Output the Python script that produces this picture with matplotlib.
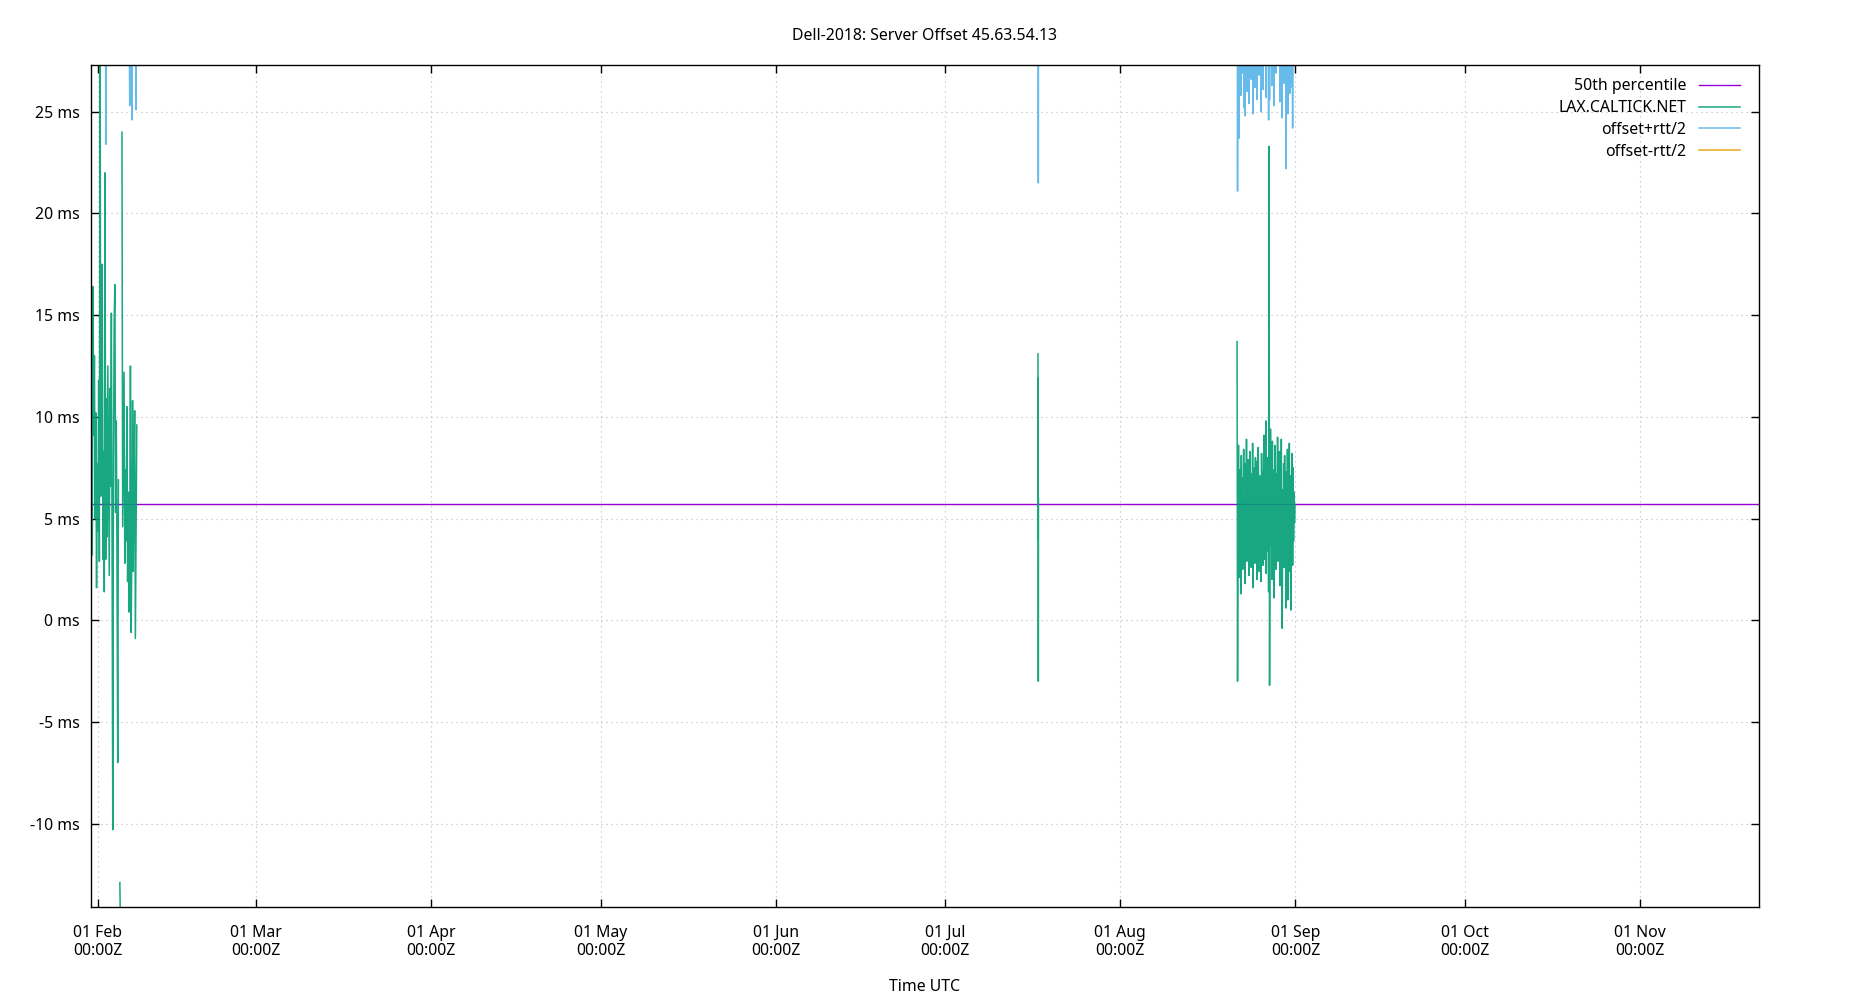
"""
Plot server offset of one NTP source, with the rtt/2 envelope
"""

import numpy as np
import pandas as pd
import matplotlib
matplotlib.use("Agg")
import matplotlib.pyplot as plt
import matplotlib.dates as mdates
from matplotlib.ticker import FuncFormatter

TITLE = "Dell-2018: Server Offset 45.63.54.13"
SERVER = "LAX.CALTICK.NET"

# median of all offsets (ms)
median_ms = 5.70

# first run of samples, every 3 hours
left_start = "2018-01-30 18:00"
left_offset = [12.9, 8.4, 3.2, 16.4, 9.1, 13.0, 5.0, 10.2, 1.6, 7.7,
               4.4, 11.8, 2.9, 30.0, 6.1, 9.5, 17.5, 3.0, 8.3, 1.4,
               22.0, 3.0, 10.9, 4.1, 12.5, 7.0, 2.2, 11.4, 6.6, 15.1,
               3.6, -10.3, 8.0, 14.8, 16.5, 5.3, 9.8, 2.5, -7.0, 6.9,
               np.nan, -12.9, -15.5, np.nan,
               24.0, 4.6, 8.7, 12.2, 2.8, 7.4, 3.9, 10.5, 1.9, 6.3,
               0.4, 4.0, 12.5, -0.6, 3.5, 10.8, 2.4, 7.2, 10.3, -0.9, 4.2, 9.6]
left_half_rtt = [30.0, 31.5, 29.0, 32.0, 30.5, 29.5, 33.0, 30.2, 31.0, 29.8,
                 32.6, 30.0, 31.2, 48.0, 30.4, 29.7, 33.5, 30.9, 32.1, 29.6,
                 38.0, 20.4, 31.6, 30.3, 29.9, 32.8, 30.7, 31.0, 29.4, 31.5,
                 30.0, 40.0, 31.8, 30.5, 32.0, 29.3, 30.8, 31.4, 36.0, 30.1,
                 np.nan, 42.0, 44.0, np.nan,
                 40.0, 30.6, 29.5, 31.9, 30.2, 32.4, 29.8, 30.7, 31.3, 29.9,
                 30.4, 21.3, 30.0, 31.2, 21.1, 29.7, 32.5, 30.3, 31.0, 30.0, 20.9, 29.4]

# short burst in July, every 30 minutes
jul_start = "2018-07-17 10:00"
jul_offset = [13.1, 4.0, 11.9, -3.0, 6.0]
jul_half_rtt = [30.0, 28.0, 29.0, 24.5, 27.0]

# second run of samples, every 2 hours
aug_start = "2018-08-21 16:00"
aug_offset = [13.7, -3.0, 5.2, 8.6, 2.1, 7.4, 4.0, 6.9, 1.3, 8.1,
              3.6, 7.0, 2.5, 6.2, 8.4, 3.1, 5.9, 1.8, 7.7, 4.4,
              8.9, 2.9, 6.6, 3.8, 7.9, 2.2, 5.4, 8.3, 3.3, 6.8,
              2.6, 7.2, 4.7, 8.7, 1.6, 6.0, 3.5, 7.5, 2.8, 8.0,
              4.1, 6.4, 2.0, 7.8, 3.2, 8.5, 5.0, 2.4, 7.1, 3.9,
              6.7, 1.9, 8.2, 4.3, 7.3, 2.7, 6.1, 9.1, 3.0, 7.6,
              4.8, 9.8, 2.3, 6.5, 8.0, 3.4, 7.0, 1.4, 23.3, -3.2,
              6.3, 9.4, 3.7, 7.9, 2.0, 8.8, 4.5, 6.2, 1.1, 7.4,
              3.6, 8.6, 5.3, 2.5, 7.2, 4.0, 9.0, 2.9, 6.8, 3.3,
              8.3, 1.7, 7.0, 4.6, 8.9, 2.2, -0.4, 6.4, 3.8, 7.7,
              2.6, 8.1, 4.2, 6.6, 0.6, 7.3, 3.1, 8.4, 1.0, 6.0,
              3.5, 8.7, 2.4, 7.1, 0.5, 6.9, 4.3, 8.2, 2.7, 7.5,
              3.9, 6.3, 4.8, 5.7]
aug_half_rtt = [30.5, 24.1, 31.0, 29.6, 21.6, 33.2, 22.5, 30.1, 24.5, 32.4,
                29.0, 34.0, 24.4, 30.8, 31.5, 22.1, 29.3, 23.0, 33.6, 30.2,
                31.9, 23.1, 29.7, 32.8, 30.0, 23.2, 34.5, 29.1, 31.4, 30.6,
                24.0, 32.2, 29.9, 30.3, 23.3, 33.0, 31.7, 29.4, 23.4, 32.5,
                30.9, 29.2, 23.6, 31.1, 33.9, 30.0, 29.6, 24.4, 32.7, 30.4,
                31.3, 23.1, 29.8, 33.4, 30.5, 23.4, 31.8, 29.0, 34.2, 30.1,
                32.9, 29.5, 23.4, 31.6, 30.2, 33.1, 29.9, 23.2, 40.0, 28.8,
                31.0, 30.4, 32.3, 29.6, 24.3, 31.2, 33.7, 30.0, 24.2, 29.8,
                32.1, 30.6, 31.4, 24.4, 29.3, 33.5, 30.7, 31.9, 29.5, 32.6,
                30.2, 23.8, 31.3, 29.9, 33.0, 22.5, 30.0, 31.7, 29.4, 32.4,
                23.8, 30.5, 31.9, 29.2, 21.6, 33.1, 30.4, 29.7, 23.9, 32.0,
                30.8, 29.3, 23.5, 31.5, 25.7, 30.1, 32.8, 29.6, 21.5, 31.0,
                30.3, 33.3, 29.8, 31.2]

x_range = ["2018-01-30 17:45", "2018-11-22 01:30"]
y_range = [-14.1, 27.3]
y_ticks = [-10, -5, 0, 5, 10, 15, 20, 25]
month_ticks = pd.date_range("2018-02-01", "2018-11-01", freq="MS")

PURPLE = "#9400d3"
GREEN = "#009e73"
BLUE = "#56b4e9"
ORANGE = "#e69f00"


def build_series():
    """ Join the sample runs into one frame, NaN rows between runs """
    runs = [(left_start, "3h", left_offset, left_half_rtt),
            (jul_start, "30min", jul_offset, jul_half_rtt),
            (aug_start, "2h", aug_offset, aug_half_rtt)]
    parts = []
    for start, freq, offset, half_rtt in runs:
        t = pd.date_range(start, periods=len(offset), freq=freq)
        df = pd.DataFrame({"offset": offset, "half_rtt": half_rtt}, index=t)
        gap = pd.DataFrame({"offset": [np.nan], "half_rtt": [np.nan]},
                           index=[t[-1] + pd.Timedelta("1min")])
        parts.append(pd.concat([df, gap]))
    df = pd.concat(parts)
    df["plus"] = df["offset"] + df["half_rtt"]
    df["minus"] = df["offset"] - df["half_rtt"]
    return df


def plot_offset(df, outfile):
    plt.rcParams["font.family"] = ["Noto Sans", "DejaVu Sans"]
    fs = 11.4

    fig = plt.figure(figsize=(18.5, 10), dpi=100)
    ax = fig.add_axes([0.0491, 0.093, 0.9017, 0.842])

    ax.axhline(median_ms, color=PURPLE, lw=1.0, label="50th percentile")
    ax.plot(df.index, df["offset"], color=GREEN, lw=1.1, alpha=0.9, label=SERVER)
    ax.plot(df.index, df["plus"], color=BLUE, lw=1.1, alpha=0.9, label="offset+rtt/2")
    ax.plot(df.index, df["minus"], color=ORANGE, lw=1.1, alpha=0.9, label="offset-rtt/2")

    ax.set_xlim(pd.Timestamp(x_range[0]), pd.Timestamp(x_range[1]))
    ax.set_ylim(y_range)
    ax.set_xticks(month_ticks)
    ax.xaxis.set_major_formatter(mdates.DateFormatter("%d %b\n%H:%MZ"))
    ax.set_yticks(y_ticks)
    ax.yaxis.set_major_formatter(FuncFormatter(lambda v, p: "%d ms" % v))

    ax.tick_params(direction="in", length=6, width=1, top=True, right=True,
                   labelsize=fs, pad=8)
    ax.tick_params(axis="x", pad=13)
    for s in ax.spines.values():
        s.set_linewidth(1.0)
    ax.grid(True, color="#b8b8b8", lw=0.8, linestyle=(0, (1, 3.5)))

    ax.set_title(TITLE, fontsize=fs, pad=18)
    ax.set_xlabel("Time UTC", fontsize=fs, labelpad=14)

    ax.legend(loc="upper right", bbox_to_anchor=(0.9967, 1.0), frameon=False,
              markerfirst=False, handlelength=2.6, labelspacing=0.36,
              fontsize=fs, borderaxespad=0.45)

    fig.savefig(outfile, dpi=100)


if __name__ == "__main__":
    data = build_series()
    plot_offset(data, "out.png")
